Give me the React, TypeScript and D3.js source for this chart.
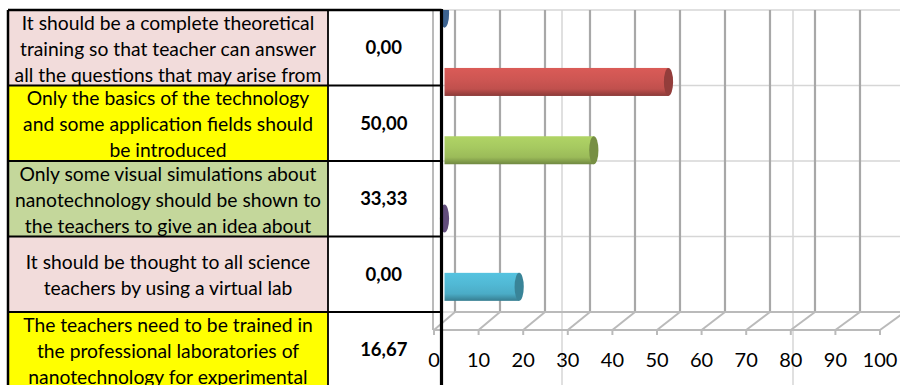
import React from "react";
import * as d3 from "d3";

// ---- data ----
const statementLines: string[][] = [
  ["It should be a complete theoretical", "training so that teacher can answer", "all the questions that may arise from"],
  ["Only the basics of the technology", "and some application fields should", "be introduced"],
  ["Only some visual simulations about", "nanotechnology should be shown to", "the teachers to give an idea about"],
  ["It should be thought to all science", "teachers by using a virtual lab"],
  ["The teachers need to be trained in", "the professional laboratories of", "nanotechnology for experimental"],
];
const categories = ["c1", "c2", "c3", "c4", "c5"];
const values = [0, 50, 33.33, 0, 16.67];
const valueLabels = ["0,00", "50,00", "33,33", "0,00", "16,67"];
const rowFills = ["#F2DCDB", "#FFFF00", "#C4D79B", "#F2DCDB", "#FFFF00"];
const barColors = ["#4F81BD", "#C0504D", "#9BBB59", "#8064A2", "#4BACC6"];
const xTicks = [0, 10, 20, 30, 40, 50, 60, 70, 80, 90, 100];

const W = 900;
const H = 385;
const FONT = "Lato, 'Open Sans', sans-serif";

export default function App() {
  // table geometry
  const tableLeft = 8;
  const colDiv = 328;
  const tableRight = 441.5;
  const rowY = d3.scaleLinear().domain([0, 5]).range([10, 387.5]);

  // chart geometry (3D oblique)
  const floorFront = 330;
  const floorBack = 312;
  const plotTop = 10;
  const xFront = d3.scaleLinear().domain([0, 100]).range([434, 880]);
  const xBack = d3.scaleLinear().domain([0, 100]).range([455, 905]);
  const xMid = (v: number) => (xFront(v) + xBack(v)) / 2;
  const yBand = d3
    .scaleBand<string>()
    .domain(categories)
    .range([-20.5, (floorFront + floorBack) / 2])
    .paddingInner(0.59)
    .paddingOuter(0.295);

  const lineH = 25.8;
  const gridLight = "#D6D6D6";
  const wallGrid = "#A8A8A8";
  const floorGrid = "#BABABA";

  return (
    <svg width={W} height={H} style={{ position: "absolute", left: 0, top: 0 }} xmlns="http://www.w3.org/2000/svg">
      <defs>
        {barColors.map((c, i) => {
          const base = d3.color(c)!;
          return (
            <linearGradient key={i} id={`g${i}`} x1="0" y1="0" x2="0" y2="1">
              <stop offset="0%" stopColor={base.brighter(0.35).formatHex()} />
              <stop offset="40%" stopColor={base.brighter(0.2).formatHex()} />
              <stop offset="75%" stopColor={base.formatHex()} />
              <stop offset="100%" stopColor={base.darker(0.9).formatHex()} />
            </linearGradient>
          );
        })}
        <clipPath id="chartClip">
          <rect x={425} y={10} width={W - 425} height={H - 10} />
        </clipPath>
        {categories.map((c, i) => (
          <clipPath key={c} id={`rowClip${i}`}>
            <rect x={tableLeft} y={rowY(i)} width={colDiv - tableLeft} height={rowY(i + 1) - rowY(i)} />
          </clipPath>
        ))}
      </defs>
      <rect x={0} y={0} width={W} height={H} fill="#ffffff" />

      {/* spreadsheet cell gridlines */}
      {d3.range(0, 6).map((i) => (
        <line key={`hr${i}`} x1={tableRight} x2={W} y1={rowY(i)} y2={rowY(i)} stroke={gridLight} strokeWidth={1.5} />
      ))}
      {[562, 793].map((x) => (
        <line key={`vc${x}`} x1={x} x2={x} y1={10} y2={H} stroke={gridLight} strokeWidth={1.5} />
      ))}

      {/* table cell fills and text */}
      {statementLines.map((lines, i) => {
        const top = rowY(i);
        const bot = rowY(i + 1);
        const cy = (top + bot) / 2;
        const n = lines.length;
        return (
          <g key={`row${i}`}>
            <rect x={tableLeft} y={top} width={colDiv - tableLeft} height={bot - top} fill={rowFills[i]} />
            <g clipPath={`url(#rowClip${i})`}>
              {lines.map((t, j) => (
                <text
                  key={j}
                  x={(tableLeft + colDiv) / 2}
                  y={cy + (j - (n - 1) / 2) * lineH + 8}
                  textAnchor="middle"
                  fontFamily={FONT}
                  fontSize={19.3}
                  fill="#000"
                >
                  {t}
                </text>
              ))}
            </g>
            <text
              x={(colDiv + tableRight) / 2 - 1}
              y={cy + 6.5}
              textAnchor="middle"
              fontFamily={FONT}
              fontSize={18.5}
              fontWeight="bold"
              fill="#000"
            >
              {valueLabels[i]}
            </text>
          </g>
        );
      })}

      {/* 3D chart */}
      <g clipPath="url(#chartClip)">
        {/* left side wall */}
        <line x1={xFront(0) - 1} x2={xFront(0) - 1} y1={plotTop} y2={floorFront} stroke={floorGrid} strokeWidth={2} />
        {/* back wall gridlines */}
        {xTicks.map((t) => (
          <line key={`bw${t}`} x1={xBack(t)} x2={xBack(t)} y1={plotTop} y2={floorBack} stroke={wallGrid} strokeWidth={2.2} />
        ))}
        {/* floor */}
        <line x1={xFront(0) - 1} x2={xFront(100)} y1={floorFront} y2={floorFront} stroke={floorGrid} strokeWidth={2} />
        <line x1={xBack(0)} x2={xBack(100)} y1={floorBack} y2={floorBack} stroke={floorGrid} strokeWidth={2} />
        {xTicks.map((t) => (
          <g key={`fl${t}`}>
            <line x1={xFront(t)} x2={xBack(t)} y1={floorFront} y2={floorBack} stroke={floorGrid} strokeWidth={2} />
            <line x1={xFront(t)} x2={xFront(t)} y1={floorFront} y2={floorFront + 5} stroke={floorGrid} strokeWidth={2} />
          </g>
        ))}
        {/* bars */}
        {categories.map((c, i) => {
          const y0 = yBand(c)!;
          const h = yBand.bandwidth();
          const x0 = xMid(0);
          const x1 = xMid(values[i]);
          const capColor = d3.color(barColors[i])!.darker(0.75).formatHex();
          return (
            <g key={`bar${c}`}>
              {values[i] > 0 && <rect x={x0} y={y0} width={x1 - x0} height={h} fill={`url(#g${i})`} />}
              <ellipse cx={x1} cy={y0 + h / 2} rx={4.6} ry={h / 2} fill={capColor} />
            </g>
          );
        })}
        {/* axis labels */}
        {xTicks.map((t) => (
          <text
            key={`xl${t}`}
            x={xFront(t)}
            y={367}
            textAnchor="middle"
            fontFamily={FONT}
            fontSize={20}
            fill="#000"
          >
            {t}
          </text>
        ))}
      </g>

      {/* table borders (on top) */}
      <g stroke="#000" fill="none">
        <line x1={tableLeft} x2={tableRight} y1={rowY(0)} y2={rowY(0)} strokeWidth={2.5} />
        {d3.range(1, 5).map((i) => (
          <line key={`tb${i}`} x1={tableLeft} x2={tableRight} y1={rowY(i)} y2={rowY(i)} strokeWidth={2} />
        ))}
        <line x1={tableLeft} x2={tableLeft} y1={rowY(0)} y2={H} strokeWidth={2.5} />
        <line x1={colDiv} x2={colDiv} y1={rowY(0)} y2={H} strokeWidth={1.8} />
        <line x1={tableRight} x2={tableRight} y1={rowY(0) - 1} y2={H} strokeWidth={3.2} />
      </g>
    </svg>
  );
}
